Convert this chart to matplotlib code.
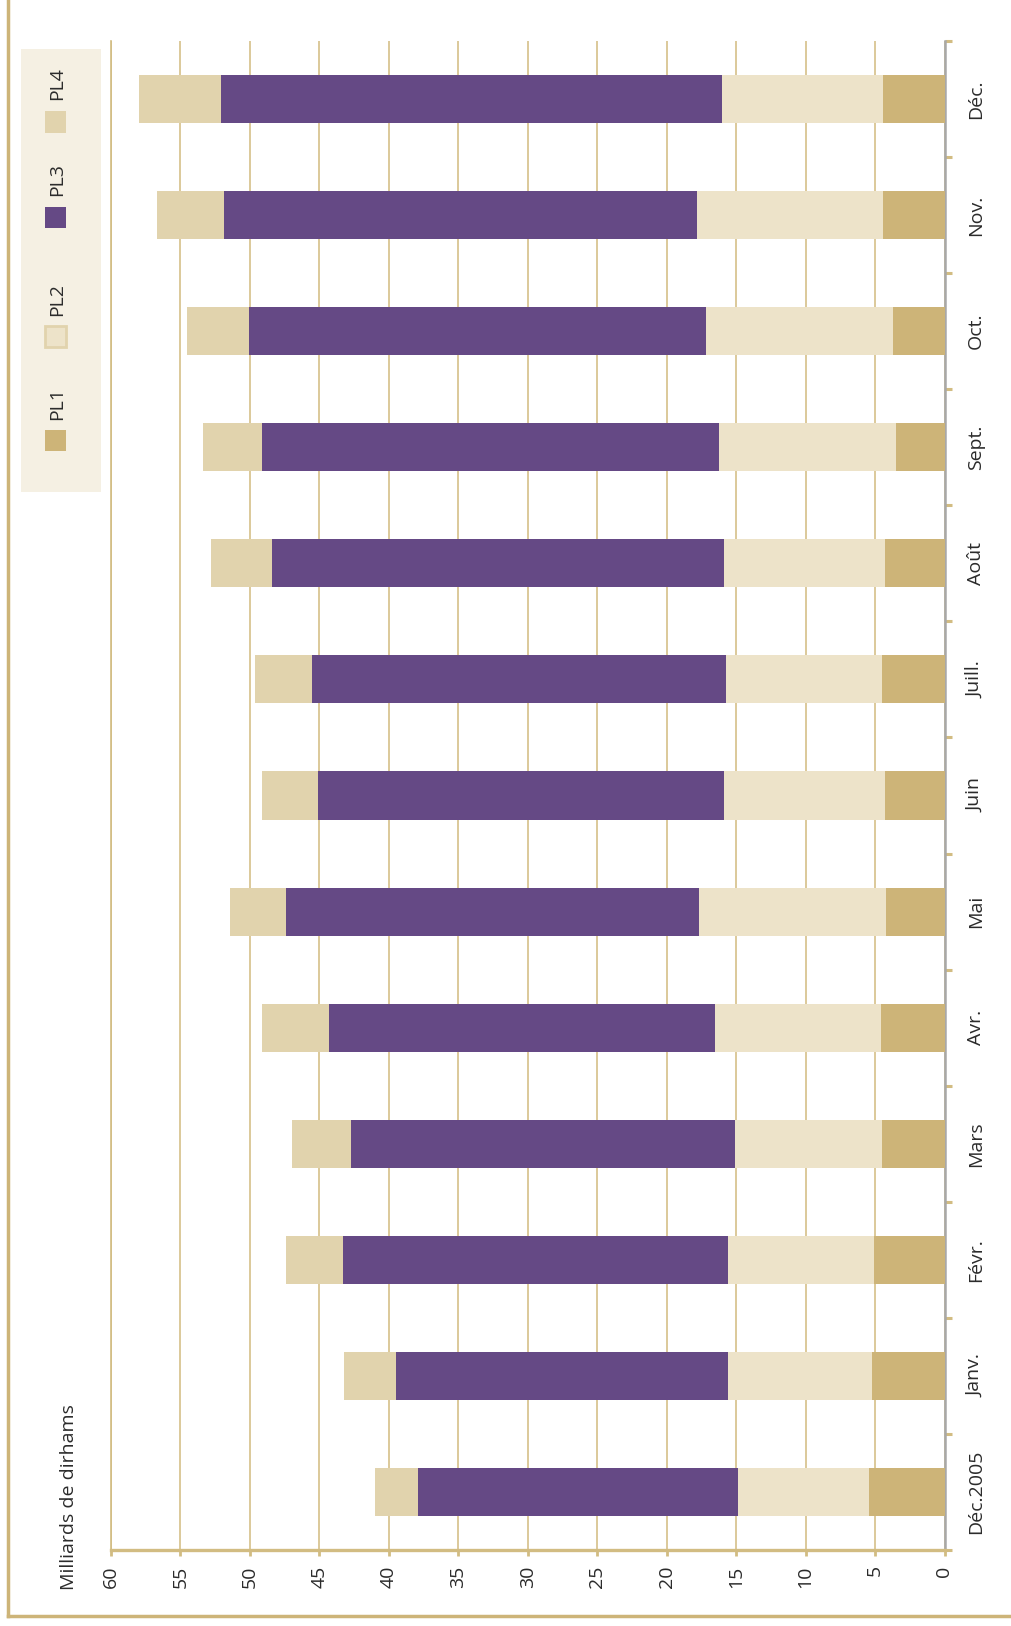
import matplotlib.pyplot as plt
from matplotlib.patches import Rectangle
import numpy as np

plt.rcParams['font.family'] = ['Open Sans', 'DejaVu Sans']

months = ['Déc.2005', 'Janv.', 'Févr.', 'Mars', 'Avr.', 'Mai', 'Juin',
          'Juill.', 'Août', 'Sept.', 'Oct.', 'Nov.', 'Déc.']
series = ['PL1', 'PL2', 'PL3', 'PL4']
# amounts per aggregate, milliards de dirhams
pl1 = [5.4, 5.2, 5.1, 4.5, 4.6, 4.2, 4.3, 4.5, 4.3, 3.5, 3.7, 4.4, 4.4]
pl2 = [9.5, 10.4, 10.5, 10.6, 11.9, 13.5, 11.6, 11.2, 11.6, 12.7, 13.5, 13.4, 11.6]
pl3 = [23.0, 23.9, 27.7, 27.6, 27.8, 29.7, 29.2, 29.8, 32.5, 32.9, 32.9, 34.1, 36.1]
pl4 = [3.1, 3.7, 4.1, 4.3, 4.8, 4.0, 4.0, 4.1, 4.4, 4.3, 4.4, 4.8, 5.9]
colors = ['#CDB478', '#EDE3C9', '#654985', '#E1D3AD']

W, H = 1011, 1626
tan = '#D2BC82'
txt = '#2b2b2b'

fig = plt.figure(figsize=(W / 100, H / 100), dpi=100)
fig.patch.set_facecolor('white')


def fx(px):
    return px / W


def fy(py):
    # pixel from top -> figure fraction
    return 1 - py / H


ax = fig.add_axes([fx(111), fy(1550), fx(944.5) - fx(111), fy(41) - fy(1550)])

y = np.arange(len(months))
left = np.zeros(len(months))
for vals, col in zip([pl1, pl2, pl3, pl4], colors):
    ax.barh(y, vals, left=left, height=0.414, color=col, zorder=3)
    left = left + np.array(vals)

ax.set_xlim(60, 0)
ax.set_ylim(-0.5, len(months) - 0.5)

ax.set_xticks(np.arange(0, 61, 5))
ax.set_xticklabels([str(v) for v in range(0, 61, 5)], rotation=90, fontsize=14, color=txt)
ax.tick_params(axis='x', length=4, width=2, color=tan, pad=7)
ax.grid(axis='x', color='#D9C592', lw=1.3, zorder=0)

ax.yaxis.tick_right()
ax.set_yticks(y)
ax.set_yticklabels(months, rotation=90, fontsize=14, color=txt, va='center', ha='left')
ax.tick_params(axis='y', which='major', length=0, pad=16)
ax.set_yticks(np.arange(-0.5, len(months), 1), minor=True)
ax.tick_params(axis='y', which='minor', right=True, length=5, width=2.2, color=tan)

ax.spines['top'].set_visible(False)
ax.spines['left'].set_color(tan)
ax.spines['left'].set_linewidth(1.2)
ax.spines['bottom'].set_color(tan)
ax.spines['bottom'].set_linewidth(2.4)
ax.spines['right'].set_color('#A8A8A8')
ax.spines['right'].set_linewidth(1.8)

fig.text(fx(69), fy(1590), 'Milliards de dirhams', rotation=90, ha='center', va='bottom',
         fontsize=14, color=txt)

# legend, drawn rotated like the rest of the chart
fig.add_artist(Rectangle((fx(21), fy(492)), fx(101) - fx(21), fy(49) - fy(492),
                         transform=fig.transFigure, facecolor='#F5F0E3', edgecolor='none'))
sq = 21
for name, col, cy in zip(series, colors, [441, 337, 218, 122]):
    ec = '#E1D3AD' if name == 'PL2' else 'none'
    fig.add_artist(Rectangle((fx(55 - sq / 2), fy(cy + sq / 2)), fx(sq), fy(0) - fy(sq),
                             transform=fig.transFigure, facecolor=col, edgecolor=ec, lw=2))
    fig.text(fx(57), fy(cy - sq / 2 - 11), name, rotation=90, ha='center', va='bottom',
             fontsize=14, color=txt)

# outer frame (left and bottom)
fig.add_artist(plt.Line2D([fx(8), fx(8)], [fy(1616), 1], transform=fig.transFigure,
                          color='#CDB478', lw=2.5))
fig.add_artist(plt.Line2D([fx(8), 1], [fy(1616), fy(1616)], transform=fig.transFigure,
                          color='#CDB478', lw=2.5))

fig.savefig('out.png', dpi=100)
